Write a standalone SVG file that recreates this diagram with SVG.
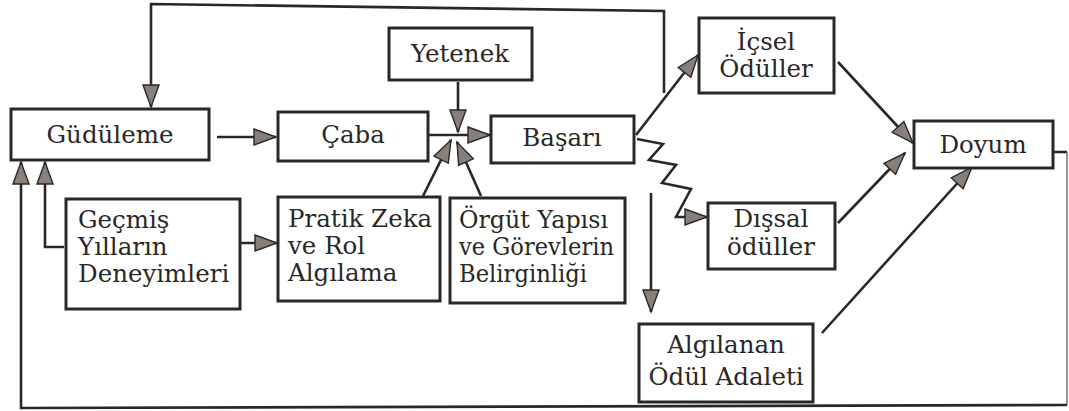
<svg xmlns="http://www.w3.org/2000/svg" width="1069" height="411" viewBox="0 0 1069 411">
  <style>
    .box { fill: #ffffff; stroke: #2a2826; stroke-width: 3; }
    .lbl { font-family: 'DejaVu Serif', 'Liberation Serif', serif; font-size: 24.5px; fill: #2a2826; }
    .c { text-anchor: middle; }
    .wire { fill: none; stroke: #2a2826; stroke-width: 2.6; }
    .arr { fill: none; stroke: #2a2826; stroke-width: 2.6; marker-end: url(#head); }
    .thin { fill: none; stroke: #6a6662; stroke-width: 1.4; }
  </style>
  <defs>
    <marker id="head" markerUnits="userSpaceOnUse" markerWidth="26" markerHeight="20" refX="22" refY="8" orient="auto" overflow="visible">
      <path d="M0,0 L22,8 L0,16 Z" fill="#8a7f78" stroke="#2a2826" stroke-width="1.4" stroke-linejoin="miter"/>
    </marker>
  </defs>
  <rect width="1069" height="411" fill="#ffffff"/>

  <!-- connectors -->
  <g id="connectors">
    <!-- feedback from performance back to motivation (top loop) -->
    <polyline class="arr" points="664,93 664,11 151,4 151,107"/>
    <!-- feedback from satisfaction to motivation (bottom loop) -->
    <polyline class="wire" points="1053,152 1067,152"/>
    <polyline class="thin" points="1067,152 1067,405"/>
    <polyline class="arr" points="1067,405 21,408 21,162"/>
    <!-- past experience to motivation -->
    <polyline class="arr" points="64,247 45,247 45,162"/>
    <!-- main chain -->
    <line class="arr" x1="217" y1="137" x2="276" y2="137"/>
    <line class="arr" x1="429" y1="135" x2="490" y2="135"/>
    <line class="arr" x1="458" y1="82" x2="458" y2="132"/>
    <line class="arr" x1="423" y1="196" x2="451" y2="140"/>
    <line class="arr" x1="481" y1="196" x2="457" y2="142"/>
    <line class="arr" x1="240" y1="243" x2="277" y2="243"/>
    <!-- performance to rewards -->
    <line class="arr" x1="636" y1="135" x2="698" y2="55"/>
    <polyline class="arr" points="637,139 663,144 649,160 676,165 662,183 691,189 676,217 707,217"/>
    <line class="arr" x1="651" y1="193" x2="651" y2="312"/>
    <!-- rewards to satisfaction -->
    <line class="arr" x1="838" y1="62" x2="913" y2="143"/>
    <line class="arr" x1="838" y1="223" x2="905" y2="153"/>
    <line class="arr" x1="822" y1="333" x2="972" y2="167"/>
  </g>

  <g id="gudulme">
    <rect class="box" x="11" y="109" width="198" height="51"/>
    <text class="lbl c" x="110" y="143">Güdüleme</text>
  </g>
  <g id="caba">
    <rect class="box" x="278" y="112" width="150" height="49"/>
    <text class="lbl c" x="353" y="143">Çaba</text>
  </g>
  <g id="yetenek">
    <rect class="box" x="389" y="28" width="143" height="52"/>
    <text class="lbl c" x="460" y="62">Yetenek</text>
  </g>
  <g id="basari">
    <rect class="box" x="491" y="116" width="143" height="47"/>
    <text class="lbl c" x="562" y="146">Başarı</text>
  </g>
  <g id="icsel">
    <rect class="box" x="699" y="18" width="135" height="75"/>
    <text class="lbl c" x="766" y="50">İçsel</text>
    <text class="lbl c" x="766" y="77">Ödüller</text>
  </g>
  <g id="doyum">
    <rect class="box" x="914" y="121" width="139" height="47"/>
    <text class="lbl c" x="983" y="153">Doyum</text>
  </g>
  <g id="gecmis">
    <rect class="box" x="66" y="199" width="174" height="110"/>
    <text class="lbl" x="78" y="228">Geçmiş</text>
    <text class="lbl" x="78" y="255">Yılların</text>
    <text class="lbl" x="78" y="282">Deneyimleri</text>
  </g>
  <g id="pratik">
    <rect class="box" x="278" y="197" width="162" height="104"/>
    <text class="lbl" x="288" y="227">Pratik Zeka</text>
    <text class="lbl" x="288" y="254">ve Rol</text>
    <text class="lbl" x="288" y="281">Algılama</text>
  </g>
  <g id="orgut">
    <rect class="box" x="450" y="198" width="175" height="105"/>
    <text class="lbl" x="459" y="228" textLength="149" lengthAdjust="spacingAndGlyphs">Örgüt Yapısı</text>
    <text class="lbl" x="459" y="255" textLength="155" lengthAdjust="spacingAndGlyphs">ve Görevlerin</text>
    <text class="lbl" x="459" y="282" textLength="128" lengthAdjust="spacingAndGlyphs">Belirginliği</text>
  </g>
  <g id="dissal">
    <rect class="box" x="708" y="203" width="127" height="66"/>
    <text class="lbl c" x="771" y="227">Dışsal</text>
    <text class="lbl c" x="771" y="255">ödüller</text>
  </g>
  <g id="algilanan">
    <rect class="box" x="639" y="324" width="174" height="78"/>
    <text class="lbl c" x="726" y="353">Algılanan</text>
    <text class="lbl c" x="726" y="385">Ödül Adaleti</text>
  </g>
</svg>
